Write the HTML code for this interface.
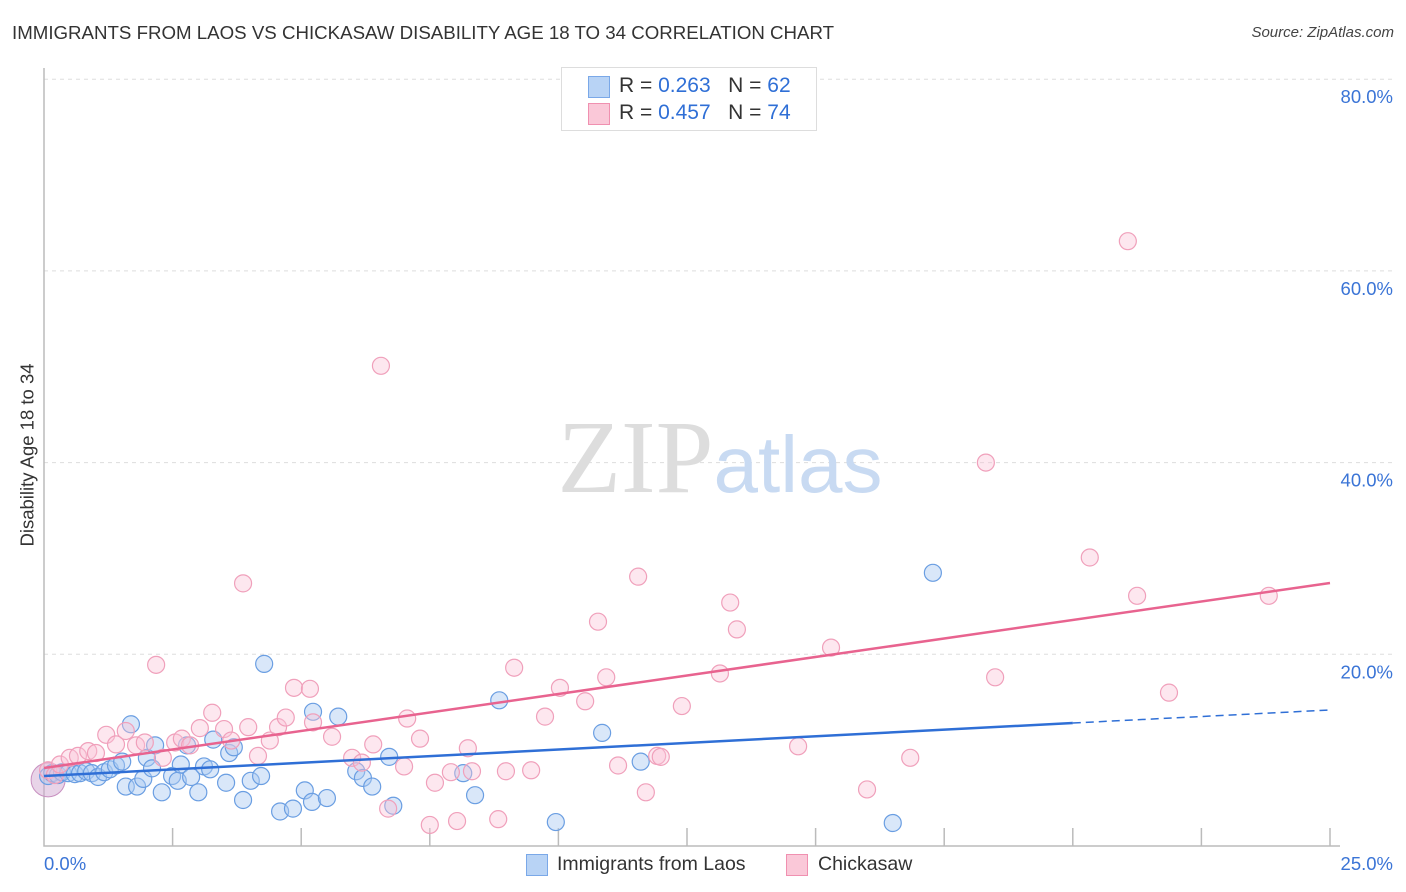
<!DOCTYPE html>
<html><head><meta charset="utf-8">
<style>
body{margin:0;background:#fff;font-family:"Liberation Sans",sans-serif;}
#wrap{position:relative;width:1406px;height:892px;overflow:hidden;}
.t{position:absolute;white-space:nowrap;}
</style></head>
<body>
<div id="wrap">
<div class="t" style="left:12px;top:22px;font-size:18.7px;color:#333;">IMMIGRANTS FROM LAOS VS CHICKASAW DISABILITY AGE 18 TO 34 CORRELATION CHART</div>
<div class="t" style="right:12px;top:24px;font-size:15px;color:#444;font-style:italic;">Source: ZipAtlas.com</div>
<div class="t" style="left:-64px;top:444px;font-size:18.5px;color:#333;transform:rotate(-90deg);">Disability Age 18 to 34</div>
<svg id="svg" width="1406" height="892" style="position:absolute;left:0;top:0"></svg>
<div style="position:absolute;left:561px;top:67px;width:254px;height:62px;border:1px solid #ddd;background:#fff;font-size:21px;">
 <div style="position:absolute;left:26px;top:8px;width:20px;height:20px;background:#b8d3f5;border:1px solid #7aa8e8;"></div>
 <div class="t" style="left:57px;top:6px;color:#333;">R = <span style="color:#2f6fd6">0.263</span>&nbsp;&nbsp;&nbsp;N = <span style="color:#2f6fd6">62</span></div>
 <div style="position:absolute;left:26px;top:35px;width:20px;height:20px;background:#fac8d8;border:1px solid #f090b0;"></div>
 <div class="t" style="left:57px;top:33px;color:#333;">R = <span style="color:#2f6fd6">0.457</span>&nbsp;&nbsp;&nbsp;N = <span style="color:#2f6fd6">74</span></div>
</div>
<div>
 <div style="position:absolute;left:526px;top:854px;width:20px;height:20px;background:#b8d3f5;border:1px solid #7aa8e8;"></div>
 <div class="t" style="left:557px;top:853px;font-size:19.5px;color:#333;">Immigrants from Laos</div>
 <div style="position:absolute;left:786px;top:854px;width:20px;height:20px;background:#fac8d8;border:1px solid #f090b0;"></div>
 <div class="t" style="left:818px;top:853px;font-size:19.5px;color:#333;">Chickasaw</div>
</div>
</div>
<script>
const xTicks=[0,2.5,5,7.5,10,12.5,15,17.5,20,22.5,25];
const yTicks=[20,40,60,80];
const yTickLabels=["20.0%","40.0%","60.0%","80.0%"];
const laosX=[0.08,0.16,0.27,0.35,0.47,0.6,0.7,0.82,0.93,1.05,1.17,1.28,1.4,1.52,1.69,1.59,1.81,1.93,2.0,2.16,2.1,2.29,2.49,2.6,2.66,2.78,2.86,3.0,3.11,3.23,3.29,3.54,3.6,3.69,3.87,4.02,4.22,4.28,4.59,4.84,5.07,5.21,5.23,5.5,5.72,6.07,6.2,6.38,6.71,6.79,8.15,8.38,8.85,9.95,10.85,11.6,17.28,16.5];
const laosY=[7.3,7.6,7.4,7.7,7.6,7.5,7.6,7.8,7.6,7.2,7.7,8.0,8.4,8.8,12.7,6.2,6.2,7.0,9.2,10.5,8.1,5.6,7.3,6.8,8.5,10.5,7.2,5.6,8.3,8.0,11.1,6.6,9.7,10.3,4.8,6.8,7.3,19.0,3.6,3.9,5.8,4.6,14.0,5.0,13.5,7.8,7.1,6.2,9.3,4.2,7.6,5.3,15.2,2.5,11.8,8.8,28.5,2.4];
const chickX=[0.08,0.21,0.31,0.5,0.66,0.86,1.01,1.21,1.4,1.59,1.79,1.96,2.18,2.31,2.55,2.68,2.84,3.03,3.27,3.5,3.64,3.87,3.97,4.16,4.39,4.55,4.7,4.86,5.17,5.23,5.6,5.99,6.18,6.4,6.55,6.69,7.0,7.06,7.31,7.5,7.6,7.91,8.03,8.24,8.32,8.83,8.98,9.14,9.47,9.74,10.03,10.52,10.77,10.93,11.16,11.55,11.7,11.92,11.99,12.4,13.14,13.34,13.47,14.66,15.3,16.0,16.84,18.31,18.49,20.33,21.07,21.25,21.87,23.81];
const chickY=[7.9,7.4,8.5,9.2,9.4,9.9,9.7,11.6,10.6,12.0,10.5,10.8,18.9,9.2,10.8,11.2,10.5,12.3,13.9,12.2,11.0,27.4,12.4,9.4,11.0,12.4,13.4,16.5,16.4,12.9,11.4,9.2,8.7,10.6,50.1,3.9,8.3,13.3,11.2,2.2,6.6,7.7,2.6,10.2,7.8,2.8,7.8,18.6,7.9,13.5,16.5,15.1,23.4,17.6,8.4,28.1,5.6,9.4,9.3,14.6,18.0,25.4,22.6,10.4,20.7,5.9,9.2,40.0,17.6,30.1,63.1,26.1,16.0,26.1];
const laosTrend=[7.3,12.83,14.19];
const chickTrend=[8.14,27.44];
const X0=44,XS=51.44,Y0=846,YS=9.585;
const sx=v=>X0+v*XS, sy=v=>Y0-v*YS;
const svg=document.getElementById('svg');
const NS='http://www.w3.org/2000/svg';
function mk(tag,attrs,parent){const e=document.createElementNS(NS,tag);for(const k in attrs)e.setAttribute(k,attrs[k]);(parent||svg).appendChild(e);return e;}
const grid=mk('g',{});


yTicks.forEach((t,i)=>{
 const l=mk('line',{x1:44,x2:1394,y1:sy(t),y2:sy(t),stroke:'#ddd','stroke-dasharray':'4,4'},grid);
 
 
 const tx=mk('text',{x:1393,y:sy(t)+24,'text-anchor':'end','font-size':18.5,fill:'#3a74d6','font-family':'Liberation Sans'});
 tx.textContent=yTickLabels[i];
 
 
});
const ax=mk('path',{d:`M44 68 V846 H1340`,stroke:'#bbb',fill:'none','stroke-width':1.5});


xTicks.slice(1).forEach(t=>{
 const l=mk('line',{x1:sx(t),x2:sx(t),y1:828,y2:846,stroke:'#bbb','stroke-width':1.5});
 
 
});
[[0,'0.0%','start',44],[25,'25.0%','end',1393]].forEach(a=>{
 const tx=mk('text',{x:a[3],y:870,'text-anchor':a[2],'font-size':18.5,fill:'#3a74d6','font-family':'Liberation Sans'});
 tx.textContent=a[1];
 
 
});
const wm=mk('text',{x:720,y:492,'text-anchor':'middle','font-size':104,'font-family':'Liberation Serif',fill:'#ddd'});


wm.innerHTML='ZIP<tspan font-family="Liberation Sans" font-size="80" fill="#c8daf2">atlas</tspan>';
const big1=mk('circle',{cx:sx(0.08),cy:sy(6.9),r:17,fill:'rgba(210,170,210,0.5)',stroke:'#c890c0'});


laosX.forEach((x,i)=>{
 const c=mk('circle',{cx:sx(x),cy:sy(laosY[i]),r:8.5,fill:'rgba(170,202,242,0.45)',stroke:'#6a9ee2','stroke-width':1.2});
 
 
});
chickX.forEach((x,i)=>{
 const c=mk('circle',{cx:sx(x),cy:sy(chickY[i]),r:8.5,fill:'rgba(250,195,215,0.4)',stroke:'#f0a0bb','stroke-width':1.2});
 
 
});
const tl1=mk('line',{x1:sx(0),y1:sy(laosTrend[0]),x2:sx(20),y2:sy(laosTrend[1]),stroke:'#2f6fd6','stroke-width':2.5});


const tl1d=mk('line',{x1:sx(20),y1:sy(laosTrend[1]),x2:sx(25),y2:sy(laosTrend[2]),stroke:'#2f6fd6','stroke-width':1.5,'stroke-dasharray':'8,5'});


const tl2=mk('line',{x1:sx(0),y1:sy(chickTrend[0]),x2:sx(25),y2:sy(chickTrend[1]),stroke:'#e8638f','stroke-width':2.5});


</script>
</body></html>
